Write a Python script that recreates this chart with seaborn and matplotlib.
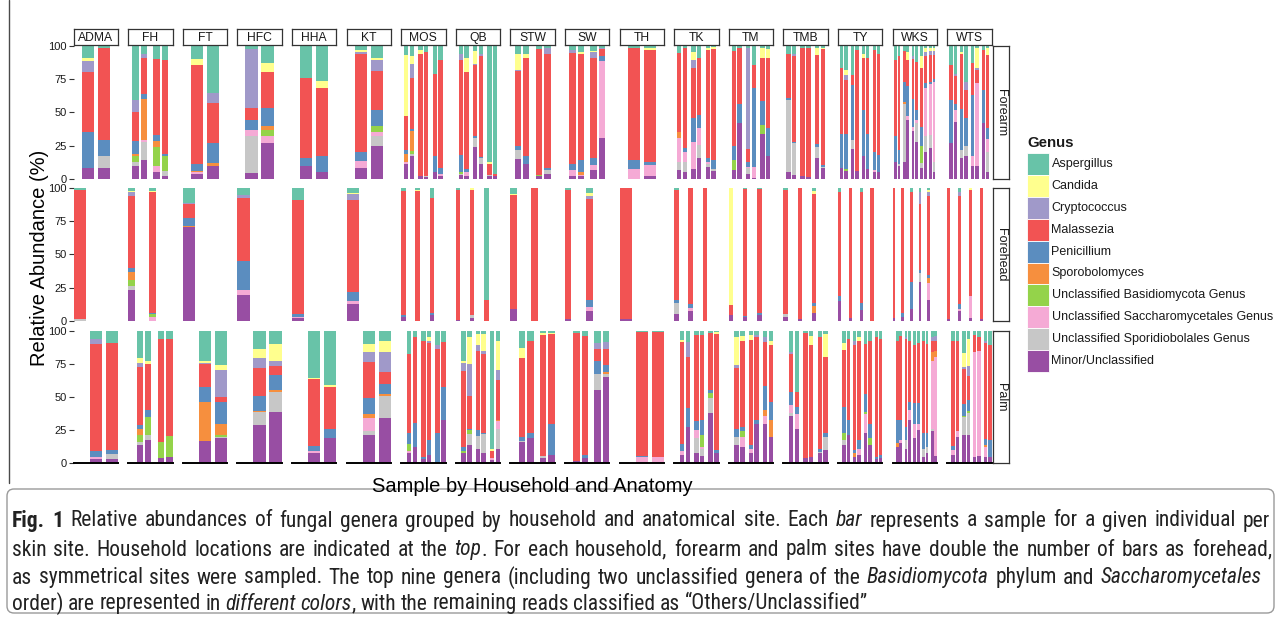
import numpy as np
import pandas as pd
import matplotlib
matplotlib.use("Agg")
import matplotlib.pyplot as plt
from matplotlib.patches import Rectangle, FancyBboxPatch
from matplotlib.lines import Line2D
from matplotlib.transforms import IdentityTransform
from matplotlib import font_manager
import seaborn as sns

# ---------------------------------------------------------------- data
GENERA = [
    "Aspergillus", "Candida", "Cryptococcus", "Malassezia", "Penicillium",
    "Sporobolomyces", "Unclassified Basidiomycota Genus",
    "Unclassified Saccharomycetales Genus", "Unclassified Sporidiobolales Genus",
    "Minor/Unclassified",
]
# every bar tuple below lists abundances (%) from the bottom segment up:
# Minor, Sporidiobolales, Saccharomycetales, Basidiomycota, Sporobolomyces,
# Penicillium, Malassezia, Cryptococcus, Candida, Aspergillus
STACK_ORDER = GENERA[::-1]

COLORS = ["#68C3A8", "#FFFF8E", "#A099C9", "#F25353", "#5B8DBF",
          "#F68F3E", "#94D34A", "#F5AAD5", "#C7C7C7", "#984EA3"]

HOUSEHOLDS = ["ADMA", "FH", "FT", "HFC", "HHA", "KT", "MOS", "QB", "STW",
              "SW", "TH", "TK", "TM", "TMB", "TY", "WKS", "WTS"]
SITES = ["Forearm", "Forehead", "Palm"]

ADMA = dict(
    Forearm=[(8.5, 0, 0, 0, 0, 26.5, 45, 8.5, 2, 9.5),
             (8.5, 8.5, 0, 0, 0, 12, 69, 0, 0, 2)],
    Forehead=[(0, 1.5, 0, 0, 0, 0, 97, 0, 0, 1.5)],
    Palm=[(3.5, 0, 1.5, 0, 0, 4, 81, 4, 0, 6),
          (3.5, 3.5, 0, 0, 0, 3, 80.5, 0, 0.5, 9)],
)
FH = dict(
    Forearm=[(10, 3, 0, 4.5, 1.5, 9.5, 21.5, 9, 0, 41),
             (14, 14, 1, 0, 31, 4, 26.5, 3, 0, 6.5),
             (5.5, 0, 4, 14.5, 4.5, 4.5, 57, 0, 0, 10),
             (2, 4, 0, 11.5, 0, 1, 70.5, 0, 0, 11)],
    Forehead=[(23.5, 2.5, 0, 4.5, 6.5, 3, 54.5, 3, 0.5, 2),
              (0, 0, 3, 2, 0, 1, 91, 0, 1, 2)],
    Palm=[(14, 2, 0, 5, 4.5, 3.5, 44, 2.5, 4, 20.5),
          (17.5, 3.5, 0, 14, 0, 5, 35, 0, 2, 23),
          (4, 0, 0, 12, 0, 0, 78, 0, 0, 6),
          (5, 0, 0, 15.5, 0, 0, 73.5, 0, 0, 6)],
)
FT = dict(
    Forearm=[(4, 0, 1.5, 0, 0.5, 5, 74.5, 0, 4.5, 10),
             (10, 0, 0, 0, 2, 15, 30, 7.5, 0, 35.5)],
    Forehead=[(70.5, 0, 0, 0, 1, 6, 10.5, 1, 0, 11)],
    Palm=[(17, 0, 0, 0, 29.5, 11, 17.5, 1, 1, 23),
          (19, 1, 0, 1, 8.5, 16.5, 4, 20, 4, 26)],
)
HFC = dict(
    Forearm=[(4.5, 27.5, 5, 0, 0, 7, 9.5, 44, 0, 2.5),
             (27, 0, 5, 5, 3, 13, 27, 0, 7, 13)],
    Forehead=[(19.5, 0, 3.5, 0, 0, 22, 48, 2, 0, 5)],
    Palm=[(29, 9.5, 0, 0, 1, 11.5, 20.5, 8, 6.5, 14),
          (39, 15, 0, 0, 1, 11.5, 7, 3.5, 13, 10)],
)
HHA = dict(
    Forearm=[(10, 0, 0, 0, 0, 5.5, 60.5, 0, 0, 24),
             (5, 0, 0, 0, 0, 12, 51, 0, 5.5, 26.5)],
    Forehead=[(2, 0, 1, 0, 0, 2, 86.5, 0, 0, 8.5)],
    Palm=[(7.5, 0, 1.5, 0, 0, 4, 50.5, 0, 1, 35.5),
          (19, 0, 0, 0, 0, 6.5, 32, 0, 1.5, 41)],
)
KT = dict(
    Forearm=[(8, 0, 5.5, 0, 0, 6.5, 73.5, 2, 1.5, 3),
             (25, 7, 3, 5, 0, 12, 29, 8, 2, 9)],
    Forehead=[(12.5, 0, 2.5, 0, 0, 6.5, 70, 4.5, 0.5, 3.5)],
    Palm=[(21.5, 3, 10, 0, 2.5, 12.5, 27, 7.5, 6, 10),
          (34.5, 16, 0, 0, 1.5, 8, 9, 15, 8.5, 7.5)],
)
MOS = dict(
    Forearm=[(11.5, 0, 1.5, 0, 6, 2.5, 26, 0, 45.5, 7),
             (17, 2, 0, 2, 15, 1.5, 38.5, 10, 6.5, 7.5),
             (2, 0, 0, 0, 0, 0, 92, 0, 3, 3),
             (1.5, 1, 0, 0, 0, 0, 93, 0, 0, 4.5),
             (5.5, 0, 0, 0, 0, 11.5, 61.5, 0, 0, 21.5),
             (2, 0, 1.5, 0, 0, 5, 80.5, 0, 0, 11)],
    Forehead=[(3, 0, 0, 0, 0, 1, 94, 0, 0, 2),
              (0, 0, 0, 0, 0, 0, 98, 0, 1, 1),
              (4, 0, 0, 0, 0, 2, 87, 0, 0, 7)],
    Palm=[(7.5, 0, 1.5, 5.5, 0, 8.5, 59.5, 0, 0, 17.5),
          (12.5, 0, 0, 0, 0, 18, 64.5, 0, 0, 5),
          (3, 0, 0, 0, 0, 2, 87.5, 0, 0, 7.5),
          (6, 0, 0, 0, 0, 11.5, 73, 2, 3, 4.5),
          (1, 0, 0, 0, 0, 21.5, 64, 2.5, 0, 11),
          (32.5, 0, 0, 0, 0, 25, 34, 0, 0, 8.5)],
)
QB = dict(
    Forearm=[(3, 1, 0, 1.5, 0, 12.5, 71, 4.5, 0, 6.5),
             (2, 0, 3.5, 0, 0, 2, 73, 0, 10, 9.5),
             (24, 6.5, 0, 0, 0, 1.5, 53.5, 0.5, 10, 4),
             (11, 4.5, 0, 0, 0, 1, 75.5, 2, 0, 6),
             (2, 1, 0, 0, 0, 0, 8, 0, 2, 87),
             (2, 0, 0, 0, 0, 0, 1.5, 0, 0, 96.5)],
    Forehead=[(0.5, 0, 0, 0, 0, 0, 98, 0, 0, 1.5),
              (2, 2, 0, 0, 0, 0, 94.5, 0, 1.5, 0),
              (0, 0, 0, 0, 0, 0, 16, 0, 0, 84)],
    Palm=[(7.5, 0, 0, 1.5, 0, 3, 57.5, 6.5, 1.5, 22.5),
          (14, 8, 0, 3, 0, 1, 24.5, 24.5, 20, 5),
          (10.5, 10, 0, 0, 0, 4.5, 60, 4.5, 8, 2.5),
          (8, 14, 0, 0, 0, 1, 59.5, 2.5, 12.5, 2.5),
          (2.5, 0, 1.5, 0, 0, 0, 5, 0, 1.5, 89.5),
          (11, 15, 6, 0, 1, 0, 30, 7.5, 21.5, 8)],
)
STW = dict(
    Forearm=[(15, 7, 0, 0, 0, 3, 56, 1, 12, 6),
             (11, 0, 0, 0, 0, 6, 73.5, 0, 3.5, 6),
             (2, 0, 0, 1, 0, 0, 94.5, 0, 0, 2.5),
             (4, 3, 0, 0, 0, 1.5, 85.5, 4, 0, 2)],
    Forehead=[(8.5, 0, 0, 0, 0, 0, 86.5, 0, 0.5, 4.5),
              (0, 0, 0, 0, 0, 0, 100, 0, 0, 0)],
    Palm=[(16, 1, 0, 0, 0, 3, 59.5, 0, 7.5, 13),
          (19, 0, 0, 0, 0, 3.5, 69.5, 0, 0, 8),
          (4, 1.5, 0, 0, 0, 0, 91.5, 0, 1, 2),
          (6, 0, 0, 0, 0, 24, 67.5, 0, 1, 1.5)],
)
SW = dict(
    Forearm=[(2, 0, 5, 0, 0, 4, 83.5, 2.5, 0, 3),
             (2, 0, 1, 0, 2, 9, 79.5, 0, 2, 4.5),
             (7, 0, 3.5, 0, 0, 5, 75.5, 4, 1, 4),
             (31, 0, 57.5, 0, 0, 3.5, 5.5, 1, 0, 1.5)],
    Forehead=[(1, 0, 0, 0, 0, 0, 98, 0, 0, 1),
              (7, 0, 3.5, 0, 0, 5.5, 76, 2.5, 2, 3.5)],
    Palm=[(2, 0, 0, 0, 0, 0, 96, 0, 0, 2),
          (4, 0, 0, 0, 0, 2, 90, 0, 0, 4),
          (55, 12.5, 0, 0, 0, 9.5, 9, 5, 0, 9),
          (65, 2.5, 0, 0, 1.5, 5, 12.5, 5, 0, 8.5)],
)
TH = dict(
    Forearm=[(0, 0, 7.5, 0, 0, 6.5, 84.5, 0, 0, 1.5),
             (2, 0, 8.5, 0, 0, 2, 84, 0, 1.5, 2)],
    Forehead=[(1, 0, 0, 0, 0, 0, 99, 0, 0, 0)],
    Palm=[(1, 0, 3.5, 0, 0, 1, 93.5, 0, 0, 1),
          (0, 0, 4.5, 0, 0, 0, 94.5, 0, 0, 1)],
)
TK = dict(
    Forearm=[(7, 6, 18, 0, 4, 0, 59.5, 0, 0, 5.5),
             (5.5, 7, 8, 0, 0, 2.5, 75, 0, 0, 2),
             (7.5, 0, 20, 0, 0, 18.5, 37.5, 5.5, 6, 5),
             (15.5, 10, 13, 0, 0, 9.5, 42.5, 0, 0, 9.5),
             (9, 2.5, 1, 0, 0, 3, 81.5, 0, 1, 2),
             (6, 1.5, 0, 0, 0, 6.5, 83.5, 0, 1.5, 1)],
    Forehead=[(5, 8, 0, 0, 0, 2.5, 83.5, 0, 0, 1),
              (7, 0, 2.5, 0, 0, 3, 87.5, 0, 0, 0),
              (0, 0, 0, 0, 0, 0, 100, 0, 0, 0)],
    Palm=[(6, 0, 3.5, 0, 0, 5, 77, 0, 1.5, 7),
          (27.5, 0, 0, 0, 0, 14.5, 38, 11.5, 0, 8.5),
          (7.5, 11.5, 6, 0, 0, 7, 64.5, 0, 0, 3.5),
          (5.5, 5, 2, 8.5, 0, 11.5, 64, 0, 0, 3.5),
          (38, 11.5, 0, 3.5, 0, 2.5, 42.5, 0, 0, 2),
          (8, 0, 0, 0, 0, 2, 87.5, 0, 1.5, 1)],
)
TM = dict(
    Forearm=[(7, 0, 0, 7, 0, 11, 71, 0, 0, 4),
             (42, 0, 0, 0, 0, 14, 42.5, 0, 0, 1.5),
             (4, 4.5, 0.5, 0, 0, 3.5, 10, 76, 0, 1.5),
             (1, 0, 8, 0, 0, 59, 17.5, 0, 0, 14.5),
             (34, 0, 0, 6.5, 0, 18, 32, 0, 7.5, 2),
             (17.5, 0, 0, 0, 0, 21, 52, 0, 7, 2.5)],
    Forehead=[(4, 0, 0, 0, 0, 0, 8, 0, 88, 0),
              (2.5, 0, 0, 0, 0, 1, 96, 0, 0, 0.5),
              (4, 0, 0, 0, 0, 1.5, 94, 0, 0, 0.5)],
    Palm=[(14, 6, 0, 0, 0, 6, 46, 2, 21.5, 4.5),
          (12.5, 0, 7.5, 4, 0, 3.5, 65, 0, 3.5, 4),
          (7.5, 0, 3.5, 0, 0, 3, 79, 0, 4, 3),
          (30, 0, 0, 0, 0, 2.5, 62.5, 2, 0, 3),
          (30, 0, 6, 0, 4, 18, 33.5, 3.5, 0, 5),
          (20, 0, 0, 0, 12.5, 14, 42.5, 0, 3, 8)],
)
TMB = dict(
    Forearm=[(5.5, 53.5, 0, 0, 0, 1.5, 33.5, 0, 0, 6),
             (3, 24, 0, 0, 0, 1, 64.5, 1.5, 0, 6),
             (2.5, 0, 0, 0, 0, 0, 96, 0, 0, 1.5),
             (1.5, 0, 0, 0, 0, 0, 97, 0, 0, 1.5),
             (15.5, 8.5, 0, 0, 0, 2, 67, 0, 5.5, 1.5),
             (8, 1, 0, 0, 0, 1.5, 87, 0, 1, 1.5)],
    Forehead=[(3, 2, 0, 0, 0, 0, 94, 0, 0, 1),
              (1, 0, 0, 0, 0, 0, 99, 0, 0, 0),
              (6, 0, 0, 0, 5, 2.5, 82, 0, 2.5, 2)],
    Palm=[(36, 2, 6, 0, 0, 10, 28.5, 1.5, 0, 16),
          (26, 0, 11.5, 0, 0, 5, 11.5, 0, 0, 46),
          (4, 0, 0, 0, 0, 0, 94, 0, 0, 2),
          (5, 0, 0, 0, 0, 0, 84, 0, 7, 4),
          (7.5, 1, 0, 0, 0, 2.5, 84.5, 0, 0, 4.5),
          (10, 10, 0, 0, 0, 3, 57, 0, 17.5, 2.5)],
)
TY = dict(
    Forearm=[(8.5, 0, 0, 0, 0, 25, 49.5, 0, 0, 17),
             (6, 0, 0, 1.5, 0, 26, 40.5, 4, 4, 18),
             (22.5, 6.5, 0, 0, 0, 41.5, 7.5, 0, 0, 22),
             (6, 0, 0, 0, 0, 0, 91, 0, 0, 3),
             (17.5, 0, 0, 0, 0, 34.5, 38.5, 0, 3.5, 6),
             (7.5, 0, 0, 0, 0, 26, 57, 0, 0, 9.5),
             (5.5, 0, 1.5, 0, 0, 13.5, 76.5, 0, 0, 3),
             (5.5, 0, 0, 0, 0, 12.5, 75.5, 0, 0, 6.5)],
    Forehead=[(15, 0, 0, 0, 0, 4, 78, 0, 0, 3),
              (2, 0, 0, 0, 0, 0, 98, 0, 0, 0),
              (8, 0, 0, 0, 0, 5, 84.5, 0, 0, 2.5),
              (0, 0, 0, 0, 0, 0, 100, 0, 0, 0)],
    Palm=[(14, 3.5, 0, 5, 0, 20, 43, 0, 5, 9.5),
          (21, 0, 0, 0, 0, 11.5, 61.5, 0, 0, 6),
          (5, 0, 0, 0, 2.5, 2.5, 79, 3.5, 0, 7.5),
          (6, 0, 4.5, 0, 0, 7, 75, 0, 2.5, 5),
          (22.5, 0, 15, 1.5, 0, 13.5, 37.5, 0, 0, 10),
          (14, 0, 0, 5, 0, 11, 62, 0, 0, 8),
          (3, 0, 0, 0, 0, 1.5, 91, 0, 0, 4.5),
          (4, 0, 0, 0, 0, 2, 88, 0, 0, 6)],
)
WKS = dict(
    Forearm=[(13, 0, 0, 0, 0, 19, 57, 0, 0, 11),
             (10, 1, 0, 0, 0, 11, 70, 0, 0, 8),
             (13, 43, 0, 0, 2, 15, 23, 0, 0, 4),
             (44, 0, 3, 0, 0, 23, 19, 0, 6, 5),
             (36, 0, 3, 0, 0, 21, 30, 2, 0, 8),
             (28, 14, 2, 0, 0, 8, 36, 0, 0, 12),
             (8, 4, 0, 13, 0, 14, 44, 0, 9, 8),
             (20, 12, 36, 0, 0, 4, 20, 3, 3, 2),
             (23, 10, 38, 0, 0, 2, 20, 3, 2, 2),
             (5, 8, 60, 0, 0, 2, 18, 3, 2, 2)],
    Forehead=[(2, 0, 0, 0, 0, 0, 98, 0, 0, 0),
              (3, 0, 0, 0, 0, 3, 94, 0, 0, 0),
              (9, 0, 0, 0, 0, 20, 68.5, 0, 0, 2.5),
              (29.5, 6.5, 0, 0, 0, 2.5, 50, 9, 0, 2.5),
              (16, 0, 12.5, 0, 3.5, 2.5, 60, 2.5, 2, 1)],
    Palm=[(12.5, 0, 0, 0, 2.5, 17.5, 60, 0, 0, 7.5),
          (15, 0, 2.5, 0, 0, 15.5, 63, 0, 0, 4),
          (11, 6.5, 0, 0, 0, 10, 66.5, 1.5, 0, 4.5),
          (33, 0, 7, 0, 0, 6, 46.5, 0, 0, 7.5),
          (19, 0, 11, 0, 0, 15.5, 43.5, 0, 0, 11),
          (25, 0, 5, 0, 0, 15.5, 45, 0, 0, 9.5),
          (5, 6, 0, 0, 0, 11.5, 70, 0, 0, 7.5),
          (7.5, 5, 0, 0, 0, 10, 67.5, 0, 0, 10),
          (24, 2, 51.5, 0, 6.5, 0, 8, 3.5, 0, 4.5),
          (5.5, 0, 74.5, 0, 5, 0, 7.5, 3.5, 0, 4)],
)
WTS = dict(
    Forearm=[(27, 0, 0, 0, 0, 32, 26.5, 0, 0, 14.5),
             (43, 0, 9, 0, 0, 4, 21, 2, 0, 21),
             (15.5, 6, 0, 0, 0, 31, 41, 0, 2, 4.5),
             (17, 7.5, 0, 0, 0, 21, 21, 6, 0, 27.5),
             (10, 0, 7, 0, 0, 46, 24, 0, 0, 13),
             (10, 0, 62, 0, 0, 0, 10, 1, 15, 2),
             (42, 0, 0, 0, 0, 25, 30, 0, 0, 3),
             (5, 15, 10, 0, 0, 8, 55, 0, 5, 2)],
    Forehead=[(1, 0, 0, 0, 0, 0, 99, 0, 0, 0),
              (7.5, 0, 1.5, 0, 0, 3.5, 82, 2.5, 0, 3),
              (2, 0, 17, 0, 0, 0, 79.5, 0, 1.5, 0),
              (1, 0, 0, 0, 0, 0, 99, 0, 0, 0)],
    Palm=[(6, 0, 4, 0, 0, 3, 79.5, 0, 0, 7.5),
          (20, 0, 4, 0, 0, 0, 68.5, 0, 0, 7.5),
          (21, 14, 0, 1, 0, 9, 26, 2, 10, 17),
          (21, 17, 0, 1.5, 0, 8.5, 17.5, 8, 20, 6.5),
          (5, 0, 79, 0, 0, 0, 13, 0, 0, 3),
          (5.5, 0, 79.5, 0, 0, 0, 10, 0, 0, 5),
          (5, 0, 7.5, 0, 1.5, 4, 73, 1, 0, 8),
          (4.5, 0, 0, 0, 0, 13, 71.5, 0, 0, 11)],
)

HOUSEHOLD_DATA = dict(ADMA=ADMA, FH=FH, FT=FT, HFC=HFC, HHA=HHA, KT=KT,
                      MOS=MOS, QB=QB, STW=STW, SW=SW, TH=TH, TK=TK, TM=TM,
                      TMB=TMB, TY=TY, WKS=WKS, WTS=WTS)

# ------------------------------------------------------- long-form table
# samples of one individual sort as forehead, L forearm, L palm, R forearm, R palm
rows = []
for hh in HOUSEHOLDS:
    d = HOUSEHOLD_DATA[hh]
    for site in SITES:
        for k, bar in enumerate(d[site]):
            vals = np.asarray(bar, dtype=float)
            vals = vals / vals.sum() * 100.0
            if site == "Forehead":
                pos = 5 * k + 1
            else:
                ind, side = divmod(k, 2)
                pos = 5 * ind + (2 if site == "Forearm" else 3) + 2 * side
            for g, v in zip(STACK_ORDER, vals):
                rows.append((hh, site, pos, g, v))
df = pd.DataFrame(rows, columns=["household", "site", "pos", "genus", "abundance"])
n_slots = {hh: 5 * len(HOUSEHOLD_DATA[hh]["Forehead"]) for hh in HOUSEHOLDS}

# ----------------------------------------------------------------- figure
sns.set_theme(style="white")
plt.rcParams["font.family"] = ["Liberation Sans", "DejaVu Sans"]
PALETTE = dict(zip(GENERA, COLORS))

W, H = 1281, 618
fig = plt.figure(figsize=(W / 100, H / 100), dpi=100)
fig.patch.set_facecolor("white")


def fbox(x0, y0, x1, y1):
    """Figure-fraction rectangle from pixel coordinates (origin top-left)."""
    return [x0 / W, 1 - y1 / H, (x1 - x0) / W, (y1 - y0) / H]


PANEL_X0, PANEL_STEP, PANEL_W = 73.5, 54.6, 44.5
ROW_Y = [(45.7, 179.0), (188.3, 320.7), (330.7, 463.3)]
BAR_W = 1.54
INK = "#1a1a1a"

for c, hh in enumerate(HOUSEHOLDS):
    x0 = PANEL_X0 + PANEL_STEP * c
    n = n_slots[hh]
    for r, site in enumerate(SITES):
        y0, y1 = ROW_Y[r]
        ax = fig.add_axes(fbox(x0, y0, x0 + PANEL_W, y1))
        sub = df[(df.household == hh) & (df.site == site)]
        sns.histplot(data=sub, x="pos", hue="genus", weights="abundance",
                     hue_order=GENERA, palette=PALETTE, multiple="stack",
                     discrete=True, shrink=BAR_W, alpha=1, linewidth=0,
                     edgecolor="none", legend=False, ax=ax)
        ax.set_xlim(1 - BAR_W / 2, n + BAR_W / 2)
        ax.set_ylim(0, 100)
        ax.set_xlabel("")
        ax.set_ylabel("")
        ax.set_xticks([])
        ax.set_facecolor("none")
        for s in ("top", "right", "left"):
            ax.spines[s].set_visible(False)
        if r == 2:
            ax.spines["bottom"].set_color("black")
            ax.spines["bottom"].set_linewidth(1.4)
        else:
            ax.spines["bottom"].set_visible(False)
        if c == 0:
            ax.set_yticks([0, 25, 50, 75, 100])
            ax.set_yticklabels(["0", "25", "50", "75", "100"])
            ax.tick_params(axis="y", length=3.5, width=0.8, color="#333333",
                           labelsize=8, labelcolor=INK, pad=1.5, left=True)
        else:
            ax.set_yticks([])

        # row strip on the right-hand side
        if c == len(HOUSEHOLDS) - 1:
            sax = fig.add_axes(fbox(993.0, y0, 1008.5, y1))
            sax.set_xticks([])
            sax.set_yticks([])
            sax.set_facecolor("white")
            for sp in sax.spines.values():
                sp.set_color("#333333")
                sp.set_linewidth(0.9)
            sax.text(0.5, 0.5, site, rotation=-90, ha="center", va="center",
                     fontsize=9, color=INK, transform=sax.transAxes)

    # household strip on top
    tax = fig.add_axes(fbox(x0, 29.0, x0 + PANEL_W, 44.5))
    tax.set_xticks([])
    tax.set_yticks([])
    tax.set_facecolor("white")
    for sp in tax.spines.values():
        sp.set_color("#333333")
        sp.set_linewidth(0.9)
    tax.text(0.5, 0.45, hh, ha="center", va="center", fontsize=8.7,
             color=INK, transform=tax.transAxes)

# axis titles
fig.text(40 / W, 1 - 258 / H, "Relative Abundance (%)", rotation=90,
         ha="center", va="center", fontsize=14.5, color="black")
fig.text(532 / W, 1 - 486 / H, "Sample by Household and Anatomy",
         ha="center", va="center", fontsize=14.5, color="black")

# legend
fig.text(1027 / W, 1 - 143 / H, "Genus", fontsize=10.8, fontweight="bold",
         ha="left", va="center", color=INK)
KEY_Y0, KEY_H = 153.3, 21.85
for i, g in enumerate(GENERA):
    ky = KEY_Y0 + KEY_H * i
    fig.add_artist(Rectangle((1027.3 / W, 1 - (ky + KEY_H) / H), 21.7 / W,
                             KEY_H / H, transform=fig.transFigure,
                             facecolor=PALETTE[g], edgecolor="white",
                             linewidth=0.6))
    fig.text(1051.5 / W, 1 - (ky + KEY_H / 2) / H, g, fontsize=9, ha="left",
             va="center", color=INK)

# frame line at the left of the figure and the caption box
fig.add_artist(Line2D([8.5, 8.5], [H - 483, H], transform=IdentityTransform(),
                      color="#4a4a4a", linewidth=1.0))
fig.add_artist(FancyBboxPatch((7, H - 613), 1267, 124,
                              boxstyle="round,pad=0,rounding_size=7",
                              transform=IdentityTransform(),
                              facecolor="white", edgecolor="#9a9a9a",
                              linewidth=1.0))

available = {f.name for f in font_manager.fontManager.ttflist}
CAP_FAMILY = "DejaVu Sans"
for cand in ("Roboto Condensed", "Liberation Sans Narrow", "Open Sans Condensed",
             "DejaVu Sans Condensed", "Liberation Sans"):
    if cand in available:
        CAP_FAMILY = cand
        break

CAPTION = [
    [("Fig. 1", "b"), (" Relative abundances of fungal genera grouped by household "
                       "and anatomical site. Each ", "n"), ("bar", "i"),
     (" represents a sample for a given individual per", "n")],
    [("skin site. Household locations are indicated at the ", "n"), ("top", "i"),
     (". For each household, forearm and palm sites have double the number of "
      "bars as forehead,", "n")],
    [("as symmetrical sites were sampled. The top nine genera (including two "
      "unclassified genera of the ", "n"), ("Basidiomycota", "i"),
     (" phylum and ", "n"), ("Saccharomycetales", "i")],
    [("order) are represented in ", "n"), ("different colors", "i"),
     (", with the remaining reads classified as \u201cOthers/Unclassified\u201d", "n")],
]
CAP_Y = [521, 550, 578, 604]
CAP_X0 = 12
CAP_X1 = [1270, 1272, 1262, 868]


def split_words(spans):
    words = []
    prev_space = True
    for text, st in spans:
        parts = text.split(" ")
        for i, p in enumerate(parts):
            if p == "":
                continue
            glued = i == 0 and words and not prev_space
            if glued:
                words[-1].append((p, st))
            else:
                words.append([(p, st)])
        prev_space = text.endswith(" ")
    return words


renderer = fig.canvas.get_renderer()


def style_kw(st, size):
    return dict(fontsize=size, family=[CAP_FAMILY, "DejaVu Sans"],
                fontweight="bold" if st == "b" else "normal",
                fontstyle="italic" if st == "i" else "normal",
                color="#222222")


def measure(text, st, size):
    t = fig.text(0, 0, text, **style_kw(st, size))
    w = t.get_window_extent(renderer).width
    t.remove()
    return w


def line_width(spans, size):
    words = split_words(spans)
    sp = measure("a a", "n", size) - measure("aa", "n", size)
    return sum(measure(p, s, size) for wd in words for p, s in wd) + sp * (len(words) - 1)


# choose the caption size so the first line fills the box width
trial = 12.0
cap_size = trial * (CAP_X1[0] - CAP_X0) / line_width(CAPTION[0], trial)
cap_size = min(cap_size, 15.5)

for spans, y, x1 in zip(CAPTION, CAP_Y, CAP_X1):
    words = split_words(spans)
    widths = [[measure(p, s, cap_size) for p, s in wd] for wd in words]
    total = sum(sum(w) for w in widths)
    gap = (x1 - CAP_X0 - total) / (len(words) - 1)
    x = CAP_X0
    for wd, ws in zip(words, widths):
        xx = x
        for (p, s), w in zip(wd, ws):
            fig.text(xx / W, 1 - y / H, p, ha="left", va="center",
                     **style_kw(s, cap_size))
            xx += w
        x = xx + gap

fig.savefig("out.png", dpi=100, facecolor="white")
